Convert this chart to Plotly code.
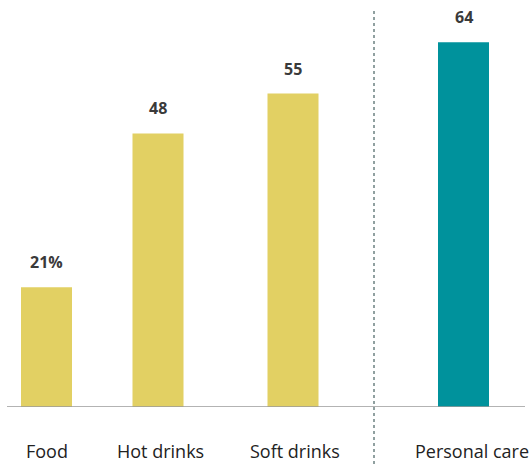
import plotly.graph_objects as go

# ---- data ----
categories = ["Food", "Hot drinks", "Soft drinks", "Personal care"]
values = [21, 48, 55, 64]
value_labels = ["21%", "48", "55", "64"]

# ---- layout / style ----
slot_centres = [46.5, 158, 293, 463.5]   # horizontal slot positions (axis units)
label_shift = [0, 2, 2, 8]               # small horizontal nudges for category labels
bar_colors = ["#e2d063", "#e2d063", "#e2d063", "#00929c"]
divider_x = 374
W, H = 529, 464
bottom_margin = 57

fig = go.Figure()
fig.add_trace(go.Bar(
    x=slot_centres, y=values, width=51,
    marker=dict(color=bar_colors, line=dict(width=0)),
    hoverinfo="skip", showlegend=False,
))

annotations = []
for xc, v, lab, cat, sh in zip(slot_centres, values, value_labels, categories, label_shift):
    annotations.append(dict(x=xc, y=v, xref="x", yref="y", text=f"<b>{lab}</b>",
                            showarrow=False, yanchor="bottom", yshift=12,
                            font=dict(family="Open Sans", size=16, color="#3a3a3a")))
    annotations.append(dict(x=xc, y=0, xref="x", yref="paper", text=cat,
                            showarrow=False, yanchor="middle", yshift=-44, xshift=sh,
                            font=dict(family="Open Sans", size=18, color="#222222")))

plot_h = H - bottom_margin
fig.update_layout(
    width=W, height=H,
    margin=dict(l=0, r=0, t=0, b=bottom_margin),
    paper_bgcolor="white", plot_bgcolor="white",
    xaxis=dict(range=[0, W], visible=False, fixedrange=True),
    yaxis=dict(range=[0, plot_h / 5.7], visible=False, fixedrange=True),
    annotations=annotations,
    shapes=[
        dict(type="line", xref="x", yref="y", x0=7, x1=525, y0=0, y1=0,
             line=dict(color="#9a9a9a", width=1.5), layer="above"),
        dict(type="line", xref="x", yref="paper", x0=divider_x, x1=divider_x,
             y0=-bottom_margin / plot_h, y1=(plot_h - 8) / plot_h,
             line=dict(color="#90a0a0", width=2, dash="dot")),
    ],
)

fig.write_html("out.html", config={"displayModeBar": False},
               post_script="document.body.style.margin='0';document.body.style.overflow='hidden';")
